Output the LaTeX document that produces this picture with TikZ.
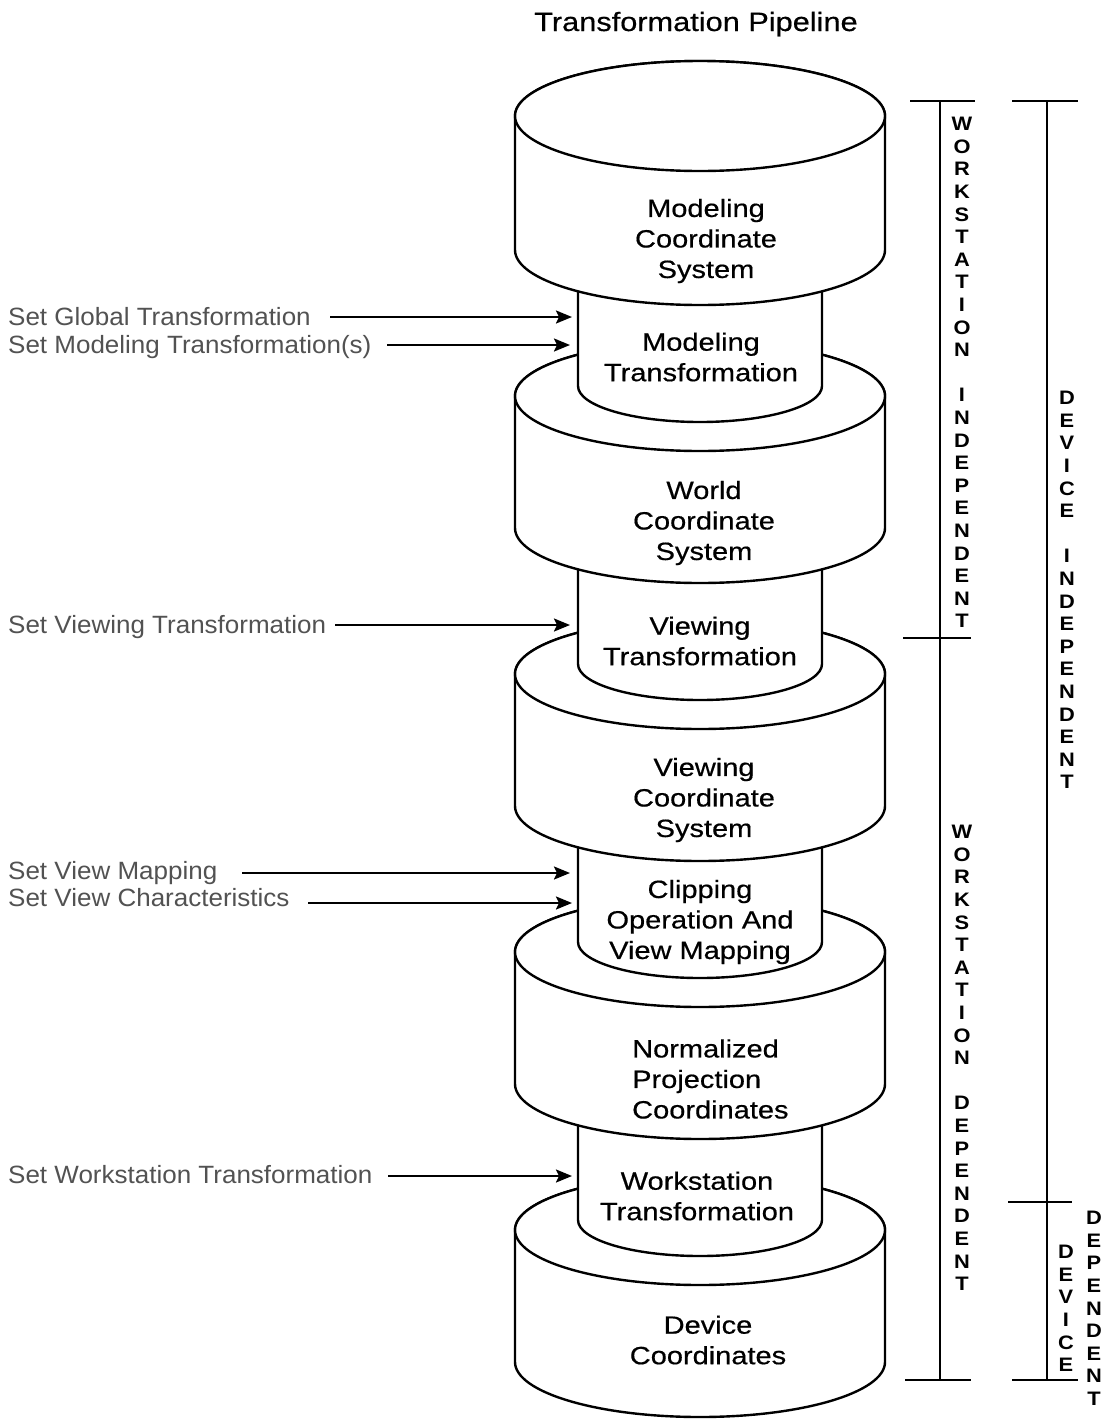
\documentclass[tikz,border=0pt]{standalone}
\usepackage{fontspec}
\setmainfont{Liberation Sans}
\newfontfamily\cylfont[FakeStretch=1.16,FakeBold=0.5]{Liberation Sans}
\newfontfamily\labfont[FakeStretch=1.04]{Liberation Sans}
\newfontfamily\vfont[FakeStretch=1.12]{Liberation Sans}
\usetikzlibrary{arrows.meta}

% #1 = top centre y, #2 = bottom centre y
\newcommand\bigcyl[2]{%
  \filldraw[cyl] (515,#1) -- (515,#2)
     arc[start angle=180,end angle=360,x radius=185pt,y radius=55pt]
     -- (885,#1)
     arc[start angle=0,end angle=180,x radius=185pt,y radius=55pt] -- cycle;
  \draw[cyl] (700,#1) ellipse[x radius=185pt,y radius=55pt];
}
% #1 = hidden top y, #2 = bottom centre y
\newcommand\smallcyl[2]{%
  \filldraw[cyl] (578,#1) -- (578,#2)
     arc[start angle=180,end angle=360,x radius=122pt,y radius=36pt]
     -- (822,#1) -- cycle;
}

\tikzset{
  cyl/.style={draw=black, fill=white, line width=2.4pt, line join=round},
  ctext/.style={font={\cylfont\fontsize{25}{30.5}\selectfont}, align=center, inner sep=0pt},
  ltext/.style={font={\labfont\fontsize{25}{30}\selectfont}, text=black!68, inner sep=0pt, anchor=base west},
  vtext/.style={font={\vfont\bfseries\fontsize{19.5}{22.6}\selectfont}, align=center, inner sep=0pt, anchor=north},
  arr/.style={line width=2.2pt, -{Stealth[length=16pt,width=13pt,inset=3pt]}},
  brk/.style={line width=2pt},
}

\begin{document}
\begin{tikzpicture}[x=1pt,y=-1pt]
\useasboundingbox (0,0) rectangle (1103,1422);

% title
\node[font={\cylfont\fontsize{26.5}{30}\selectfont}, anchor=base, inner sep=0pt] (title) at (696,31) {Transformation Pipeline};

% cylinders, drawn from bottom to top
\bigcyl{1230}{1362}
\smallcyl{1084}{1220}
\bigcyl{952}{1084}
\smallcyl{806}{942}
\bigcyl{674}{806}
\smallcyl{528}{664}
\bigcyl{396}{528}
\smallcyl{250}{386}
\bigcyl{116}{250}

% cylinder texts
\node[ctext] (mcs) at (706,241) {Modeling\\Coordinate\\System};
\node[ctext] (mt)  at (701,357) {Modeling\\Transformation};
\node[ctext] (wcs) at (704,523) {World\\Coordinate\\System};
\node[ctext] (vt)  at (700,641) {Viewing\\Transformation};
\node[ctext] (vcs) at (704,800) {Viewing\\Coordinate\\System};
\node[ctext] (cvm) at (700,922) {Clipping\\Operation And\\View Mapping};
\node[ctext, align=left, anchor=west] (npc) at (632,1079) {Normalized\\Projection\\Coordinates};
\node[ctext] (wt)  at (697,1196) {Workstation\\Transformation};
\node[ctext] (dc)  at (708,1340) {Device\\Coordinates};

% left labels
\node[ltext] (l1) at (8,325)  {Set Global Transformation};
\node[ltext] (l2) at (8,353)  {Set Modeling Transformation(s)};
\node[ltext] (l3) at (8,633)  {Set Viewing Transformation};
\node[ltext] (l4) at (8,879)  {Set View Mapping};
\node[ltext] (l5) at (8,906)  {Set View Characteristics};
\node[ltext] (l6) at (8,1183) {Set Workstation Transformation};

\coordinate (s1) at (330,317);  \coordinate (e1) at (572,317);
\coordinate (s2) at (387,345);  \coordinate (e2) at (570,345);
\coordinate (s3) at (335,625);  \coordinate (e3) at (570,625);
\coordinate (s4) at (242,873);  \coordinate (e4) at (570,873);
\coordinate (s5) at (308,903);  \coordinate (e5) at (572,903);
\coordinate (s6) at (388,1176); \coordinate (e6) at (572,1176);
\draw[arr] (s1) -- (e1);
\draw[arr] (s2) -- (e2);
\draw[arr] (s3) -- (e3);
\draw[arr] (s4) -- (e4);
\draw[arr] (s5) -- (e5);
\draw[arr] (s6) -- (e6);

% brackets
\draw[brk] (940,101) -- (940,1380);
\draw[brk] (910,101) -- (975,101);
\draw[brk] (903,638) -- (971,638);
\draw[brk] (905,1380) -- (971,1380);
\draw[brk] (1047,101) -- (1047,1380);
\draw[brk] (1012,101) -- (1078,101);
\draw[brk] (1008,1202) -- (1072,1202);
\draw[brk] (1012,1380) -- (1078,1380);

% vertical labels
\node[vtext] (wi) at (962,117) {W\\O\\R\\K\\S\\T\\A\\T\\I\\O\\N\\[22.6pt]I\\N\\D\\E\\P\\E\\N\\D\\E\\N\\T};
\node[vtext] (wd) at (962,825) {W\\O\\R\\K\\S\\T\\A\\T\\I\\O\\N\\[22.6pt]D\\E\\P\\E\\N\\D\\E\\N\\T};
\node[vtext] (di) at (1067,391) {D\\E\\V\\I\\C\\E\\[22.6pt]I\\N\\D\\E\\P\\E\\N\\D\\E\\N\\T};
\node[vtext] (dv) at (1066,1245) {D\\E\\V\\I\\C\\E};
\node[vtext] (dp) at (1094,1211) {D\\E\\P\\E\\N\\D\\E\\N\\T};
\end{tikzpicture}
\end{document}
